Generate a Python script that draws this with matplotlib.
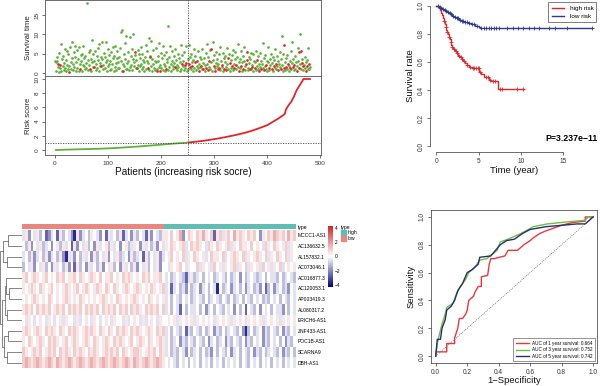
import numpy as np
import matplotlib
matplotlib.use('Agg')
import matplotlib.pyplot as plt
from matplotlib.colors import LinearSegmentedColormap, ListedColormap
from matplotlib.patches import Patch

plt.rcParams['font.family'] = ['Liberation Sans', 'DejaVu Sans']

# ---------------- risk score / survival status data ----------------
n_patients = 482
n_low = 250

risk_idx = [1, 10, 20, 30, 40, 50, 60, 70, 80, 90, 100, 110, 120, 130, 140, 150, 160, 170,
            180, 190, 200, 210, 220, 230, 240, 250, 260, 270, 280, 290, 300, 310, 320, 330,
            340, 350, 360, 370, 380, 390, 400, 410, 420, 430, 433, 435, 440, 445, 450, 455,
            460, 465, 468, 475, 482]
risk_val = [0.0, 0.02, 0.05, 0.07, 0.09, 0.11, 0.13, 0.15, 0.17, 0.2, 0.23, 0.27, 0.31, 0.36,
            0.41, 0.46, 0.51, 0.57, 0.63, 0.69, 0.76, 0.82, 0.88, 0.94, 0.99, 1.05, 1.13, 1.21,
            1.3, 1.41, 1.53, 1.66, 1.8, 1.95, 2.11, 2.28, 2.47, 2.69, 2.95, 3.22, 3.5, 3.95,
            4.4, 4.9, 5.1, 5.7, 6.3, 6.8, 7.5, 8.4, 9.0, 9.6, 10.0, 10.0, 10.0]

# survival time (years), 40 patients per row, ordered by risk score
surv_time_rows = [
    [3.2, 2.8, 0.4, 4.1, 3.0, 1.6, 2.2, 5.1, 0.3, 2.0, 1.2, 7.4, 0.5, 3.6, 1.9, 4.4, 0.8, 2.6, 6.2, 1.4,
     0.6, 3.3, 5.6, 2.1, 0.9, 4.8, 1.7, 0.3, 6.6, 2.9, 1.1, 7.9, 3.8, 0.7, 2.4, 5.3, 1.5, 4.0, 6.9, 0.4],
    [2.7, 5.9, 1.3, 3.5, 0.6, 6.8, 2.2, 1.0, 4.6, 3.1, 0.5, 5.0, 2.0, 7.1, 1.8, 3.9, 0.9, 4.3, 2.5, 1.4,
     18.0, 3.4, 0.7, 5.5, 2.1, 1.1, 6.0, 3.7, 0.4, 8.6, 2.9, 1.6, 4.9, 1.5, 3.0, 5.8, 0.8, 2.3, 4.5, 1.2],
    [6.4, 3.3, 0.6, 7.6, 2.6, 1.9, 4.2, 1.8, 3.6, 7.9, 0.9, 2.0, 5.2, 1.3, 4.0, 8.1, 2.8, 0.5, 3.4, 6.1,
     1.7, 2.4, 4.7, 0.7, 3.1, 5.4, 1.0, 2.2, 6.7, 3.8, 0.4, 4.4, 1.6, 7.0, 2.5, 0.8, 3.9, 5.7, 1.4, 2.9],
    [4.1, 1.2, 6.5, 3.0, 10.7, 0.6, 11.1, 2.3, 0.5, 4.8, 1.9, 7.7, 3.5, 0.9, 9.6, 2.6, 1.1, 5.3, 3.2, 0.7,
     9.3, 1.5, 4.3, 2.0, 6.3, 0.8, 3.7, 10.1, 1.8, 2.7, 4.6, 5.3, 1.3, 3.3, 1.3, 6.0, 2.1, 0.4, 4.9, 1.7],
    [3.9, 2.4, 6.8, 0.9, 5.0, 1.6, 3.4, 2.8, 0.6, 4.2, 7.3, 1.0, 3.1, 5.6, 1.2, 2.5, 9.1, 0.7, 4.4, 4.0,
     1.9, 8.3, 3.6, 0.5, 2.2, 5.9, 1.4, 3.0, 0.8, 6.4, 2.7, 1.1, 0.5, 4.5, 3.2, 1.6, 7.8, 0.6, 2.0, 5.1],
    [1.3, 3.8, 6.9, 0.7, 2.4, 4.7, 1.8, 0.4, 5.5, 1.1, 2.9, 3.5, 0.8, 12.1, 1.5, 4.1, 7.1, 2.3, 0.6, 3.0,
     5.8, 1.9, 0.9, 2.6, 4.3, 1.5, 6.2, 1.2, 3.4, 0.7, 2.1, 5.0, 1.6, 3.9, 0.5, 2.8, 7.2, 1.0, 2.4, 4.6],
    [1.7, 3.1, 0.8, 5.3, 2.1, 1.4, 6.9, 2.5, 0.6, 3.6, 1.1, 7.3, 2.2, 4.0, 1.5, 0.9, 5.0, 2.7, 1.8, 0.4,
     3.3, 6.1, 1.2, 2.9, 4.5, 0.7, 1.9, 3.0, 5.6, 1.3, 2.4, 0.5, 4.2, 1.6, 3.5, 1.8, 6.3, 0.9, 2.6, 1.1],
    [3.8, 0.6, 2.0, 5.2, 1.4, 7.5, 2.3, 0.8, 4.1, 1.6, 3.2, 6.0, 1.0, 2.7, 6.2, 0.5, 3.4, 7.9, 1.9, 4.6,
     1.2, 0.4, 2.5, 5.5, 1.7, 3.6, 0.9, 2.2, 4.8, 1.3, 6.6, 0.7, 3.0, 1.5, 2.1, 5.1, 0.6, 3.9, 1.1, 2.8],
    [4.4, 1.6, 0.8, 6.4, 2.3, 3.8, 1.0, 5.0, 0.5, 2.6, 3.3, 1.4, 4.7, 1.9, 0.7, 6.0, 2.4, 1.2, 3.5, 5.4,
     0.9, 2.0, 4.2, 1.5, 7.6, 0.6, 2.9, 3.7, 1.3, 5.8, 1.7, 0.4, 2.7, 4.5, 1.0, 3.1, 6.7, 1.8, 0.8, 2.2],
    [3.3, 5.3, 1.4, 0.7, 4.0, 2.5, 1.1, 3.6, 5.1, 0.9, 2.1, 1.6, 4.8, 0.5, 3.0, 1.3, 2.7, 5.6, 0.8, 1.9,
     3.4, 1.0, 4.3, 2.2, 0.6, 5.2, 1.5, 3.1, 0.9, 2.4, 7.8, 1.2, 3.8, 0.7, 1.8, 4.6, 2.0, 1.1, 3.2, 0.5],
    [2.9, 6.8, 1.4, 0.8, 3.7, 2.1, 5.0, 1.0, 2.6, 4.1, 0.6, 1.7, 3.3, 6.1, 1.2, 2.4, 0.9, 4.4, 1.9, 3.0,
     0.7, 2.2, 5.4, 1.5, 1.0, 3.6, 9.5, 2.0, 0.5, 4.9, 1.3, 7.3, 2.7, 0.8, 1.6, 3.9, 1.1, 4.7, 2.3, 0.6],
    [1.8, 3.2, 1.2, 5.7, 0.9, 2.6, 8.0, 1.5, 3.5, 0.7, 2.1, 4.3, 1.0, 2.8, 0.5, 1.9, 3.0, 6.5, 1.4, 5.3,
     2.2, 10.2, 5.7, 1.1, 2.5, 3.6, 0.8, 1.7, 2.0, 4.1, 1.3, 0.6, 2.9, 1.8, 3.4, 1.0, 6.4, 2.3, 0.9, 1.5],
]
# 1 = dead, 0 = alive
surv_dead_rows = [
    "0000001001" "0000000000" "0000000100" "0000000000",
    "0000000100" "0000000000" "0000010000" "0001000000",
    "0000000100" "0000000000" "0000000000" "0000000000",
    "0000000010" "0000000000" "0000000000" "0100100000",
    "0000000000" "0000100001" "0000000000" "0010000100",
    "0000000001" "0000000000" "0000010000" "0000000010",
    "0000100100" "0010100010" "0001000100" "0100010001",
    "0000100100" "1000100010" "0100001001" "0000100010",
    "0010010001" "0001000100" "0100010000" "1000100001",
    "1100001000" "0100010000" "1000100010" "0001001000",
    "0010000100" "0100010000" "1000100000" "1100100010",
    "0010000100" "1000100011" "0010100100" "0101000100",
]

# ---------------- Kaplan-Meier data ----------------
hr_time = [0, 0.3, 0.5, 0.6, 0.7, 0.8, 0.9, 1.0, 1.1, 1.2, 1.3, 1.4, 1.5, 1.6, 1.7, 1.8, 1.9, 2.0,
           2.2, 2.4, 2.6, 2.8, 3.0, 3.2, 3.4, 3.6, 3.9, 4.2, 5.1, 5.3, 5.7, 6.2, 6.5, 7.3, 10.4]
hr_surv = [1.0, 0.985, 0.97, 0.95, 0.93, 0.91, 0.89, 0.87, 0.85, 0.83, 0.815, 0.795, 0.78, 0.76,
           0.74, 0.72, 0.705, 0.69, 0.675, 0.66, 0.645, 0.635, 0.62, 0.605, 0.59, 0.578, 0.565,
           0.555, 0.53, 0.515, 0.495, 0.475, 0.465, 0.41, 0.41]
hr_cens = [0.9, 1.1, 1.3, 1.5, 1.7, 1.9, 2.1, 2.3, 2.5, 2.7, 2.9, 3.1, 3.3, 3.6, 4.0, 4.3, 4.5,
           4.7, 4.9, 5.0, 5.2, 5.9, 6.1, 6.4, 6.7, 6.9, 7.6, 7.8, 9.6, 10.3]
lr_time = [0, 0.2, 0.35, 0.5, 0.7, 0.9, 1.1, 1.3, 1.5, 1.7, 1.9, 2.1, 2.4, 2.7, 3.0, 3.3, 3.7,
           4.1, 4.6, 5.0, 5.2, 18.4]
lr_surv = [1.0, 0.995, 0.99, 0.985, 0.978, 0.97, 0.962, 0.955, 0.945, 0.938, 0.928, 0.92, 0.91,
           0.9, 0.893, 0.885, 0.877, 0.868, 0.858, 0.85, 0.84, 0.84]
lr_cens = [0.2, 0.4, 0.6, 0.8, 1.0, 1.2, 1.4, 1.6, 1.8, 2.0, 2.2, 2.4, 2.6, 2.8, 3.0, 3.2, 3.4,
           3.6, 3.9, 4.2, 4.5, 4.8, 5.3, 5.6, 5.9, 6.2, 6.5, 6.8, 7.1, 7.4, 8.4, 9.1, 9.7, 10.3,
           11.0, 11.6, 12.2, 13.3, 14.0, 15.5, 18.4]
p_text = "P=3.237e\u221211"

# ---------------- ROC data ----------------
roc1_fpr = [0.0, 0.0, 0.07, 0.07, 0.12, 0.12, 0.14, 0.15, 0.17, 0.19, 0.2, 0.21, 0.24, 0.25, 0.27,
            0.29, 0.29, 0.33, 0.34, 0.35, 0.37, 0.44, 0.46, 0.52, 0.54, 0.56, 0.6, 0.62, 0.66, 0.7,
            0.75, 0.8, 0.87, 0.95, 0.95, 1.0]
roc1_tpr = [0.0, 0.03, 0.03, 0.09, 0.09, 0.13, 0.2, 0.27, 0.27, 0.3, 0.33, 0.4, 0.43, 0.46, 0.5,
            0.5, 0.57, 0.58, 0.66, 0.7, 0.7, 0.72, 0.76, 0.76, 0.78, 0.8, 0.83, 0.85, 0.88, 0.9,
            0.92, 0.94, 0.96, 0.97, 1.0, 1.0]
roc3_fpr = [0.0, 0.01, 0.02, 0.04, 0.06, 0.07, 0.11, 0.13, 0.155, 0.19, 0.21, 0.25, 0.28, 0.325,
            0.39, 0.41, 0.47, 0.54, 0.62, 0.71, 0.83, 0.95, 0.97, 1.0]
roc3_tpr = [0.0, 0.09, 0.14, 0.23, 0.3, 0.35, 0.38, 0.44, 0.5, 0.55, 0.6, 0.64, 0.69, 0.70, 0.76,
            0.82, 0.845, 0.88, 0.93, 0.95, 0.964, 0.976, 1.0, 1.0]
roc5_fpr = [0.0, 0.01, 0.03, 0.04, 0.06, 0.07, 0.1, 0.12, 0.14, 0.17, 0.2, 0.23, 0.27, 0.28, 0.35,
            0.38, 0.41, 0.45, 0.5, 0.55, 0.6, 0.7, 0.8, 0.9, 0.95, 0.97, 1.0]
roc5_tpr = [0.0, 0.12, 0.12, 0.2, 0.26, 0.33, 0.36, 0.4, 0.47, 0.52, 0.6, 0.62, 0.66, 0.71, 0.72,
            0.76, 0.8, 0.83, 0.84, 0.88, 0.91, 0.93, 0.94, 0.95, 0.95, 0.97, 1.0]
roc_years = [1, 3, 5]
roc_auc = [0.664, 0.752, 0.742]

# ---------------- heatmap data ----------------
genes = ["MCCC1-AS1", "AC136632.5", "AL157832.1", "AC073046.1", "AC016877.3", "AC120053.1",
         "AP003419.3", "AL080317.2", "ERICH6-AS1", "ZNF433-AS1", "POC1B-AS1", "SCARNA9", "DBH-AS1"]
# expression level codes per column group: low-risk part, then high-risk part
hm_rows = [
    ("4625463512" "4516354206" "2453654251" "6453614526" "3541625436",
     "6575682576" "5768657167" "4675867657" "6752657687" "675867"),
    ("5362546345" "2563645162" "5463526456" "3645256346" "5264536254",
     "6576567457" "6765476576" "5674657665" "7565476576" "567465"),
    ("4536245362" "4536204625" "3645263546" "2546345263" "4516354624",
     "5675657465" "7656457665" "7456765746" "5676574657" "657465"),
    ("3546254635" "2645362516" "3526453625" "4635264536" "2546354625",
     "5465675465" "5746564756" "4656746574" "6564756465" "745656"),
    ("6756765675" "6576756675" "7656765756" "6756576765" "6576756675",
     "4534543146" "3453545345" "4353452534" "5434535443" "534543"),
    ("6567657656" "7565676567" "5676567657" "6576567656" "7656576567",
     "4514534253" "4524535405" "3452453524" "5342513524" "534254"),
    ("5656765657" "6565676565" "7656565676" "5657656567" "6565765656",
     "4535435453" "4543534543" "5435345354" "3545343545" "354354"),
    ("6767576767" "5676757676" "7576767576" "7675767576" "7657676757",
     "4535415354" "4535245354" "3545253515" "4352545354" "425354"),
    ("5465456546" "5456465546" "4565465456" "5465546456" "5464565465",
     "5656465656" "4656565465" "6564656546" "5656465656" "465656"),
    ("6765676576" "7657657676" "5676765765" "7657676576" "7656765767",
     "4535435143" "5435345243" "5345435203" "5345243543" "524354"),
    ("6576567657" "6765675676" "5676576567" "6576765675" "6765765676",
     "4534524354" "3543524534" "5243543524" "3545243545" "352435"),
    ("7656767567" "6757676576" "7657676567" "6767576567" "7656767576",
     "4534354253" "4535342535" "4352453543" "5243534543" "524353"),
    ("7876787678" "7687678767" "8767876787" "6787678768" "7678767876",
     "5454354535" "4535453545" "3545453543" "5453545354" "535454"),
]
# value of each code 0..9 (row-scaled expression)
hm_levels = [-3.6, -2.6, -1.8, -1.1, -0.5, 0.0, 0.5, 1.0, 1.6, 2.5]
# row clustering: (node a, node b, height); new nodes numbered from 13
den_merges = [(0, 1, 1.7), (2, 3, 1.8), (13, 14, 2.3), (5, 6, 1.6), (4, 16, 1.9), (7, 8, 1.75),
              (17, 18, 2.1), (9, 10, 1.7), (11, 12, 1.8), (20, 21, 2.2), (19, 22, 2.4),
              (15, 23, 2.6)]

green = '#5DB33A'
red = '#E3252B'
navy_km = '#2E3A8C'
low_col = '#E8877E'
high_col = '#5FBDB4'
axis_col = '#333333'


def r_style(ax, size):
    ax.tick_params(direction='out', length=2.5, width=0.5, labelsize=size, pad=1.5,
                   colors=axis_col)
    for lab in ax.get_yticklabels():
        lab.set_rotation(90)
        lab.set_va('center')
    for sp in ax.spines.values():
        sp.set_linewidth(0.6)
        sp.set_color('#555555')


fig = plt.figure(figsize=(6, 3.86), dpi=100)
W, H = 600.0, 386.0


def px_axes(x0, y0, x1, y1):
    return fig.add_axes([x0 / W, 1 - y1 / H, (x1 - x0) / W, (y1 - y0) / H])


# ---------- survival status scatter ----------
surv_time = np.concatenate([np.array(r, dtype=float) for r in surv_time_rows])
surv_dead = np.array([int(c) for r in surv_dead_rows for c in r])
k = min(len(surv_time), len(surv_dead))
surv_time, surv_dead = surv_time[:k], surv_dead[:k]
pat = np.arange(1, k + 1)

ax1 = px_axes(45, 0, 321, 76)
alive = surv_dead == 0
ax1.scatter(pat[alive], surv_time[alive], s=3.8, color=green, linewidths=0, zorder=2)
ax1.scatter(pat[~alive], surv_time[~alive], s=3.8, color=red, linewidths=0, zorder=3)
ax1.axvline(n_low, color='#444444', lw=0.6, ls=(0, (1.5, 1.5)))
ax1.set_xlim(-18, 501)
ax1.set_ylim(-0.8, 18.9)
ax1.set_xticks([])
ax1.set_yticks([0, 5, 10, 15])
ax1.set_ylabel('Survival time', fontsize=5.6, labelpad=2, color='#222222')
r_style(ax1, 4.6)

# ---------- risk score curve ----------
ax2 = px_axes(45, 76, 321, 155)
ridx = np.array(risk_idx)
rval = np.array(risk_val)
lo = ridx <= n_low
ax2.plot(ridx[lo], rval[lo], color=green, lw=1.3, solid_capstyle='butt')
hi = ridx >= n_low
ax2.plot(ridx[hi], rval[hi], color=red, lw=1.3, solid_capstyle='butt')
cut_val = rval[ridx == n_low][0]
ax2.axvline(n_low, color='#444444', lw=0.6, ls=(0, (1.5, 1.5)))
ax2.axhline(cut_val, color='#444444', lw=0.6, ls=(0, (1.5, 1.5)))
ax2.set_xlim(-18, 501)
ax2.set_ylim(-0.7, 10.42)
ax2.set_xticks([0, 100, 200, 300, 400, 500])
ax2.set_yticks([0, 2, 4, 6, 8, 10])
ax2.set_ylabel('Risk score', fontsize=5.6, labelpad=2, color='#222222')
ax2.set_xlabel('Patients (increasing risk socre)', fontsize=7.2, labelpad=1, color='#111111')
r_style(ax2, 4.6)

# ---------- Kaplan-Meier ----------
ax3 = px_axes(430, 0, 598, 152)
ax3.step(hr_time, hr_surv, where='post', color=red, lw=1.0)
ax3.step(lr_time, lr_surv, where='post', color=navy_km, lw=1.0)
for t, s, c, col in [(hr_time, hr_surv, hr_cens, red), (lr_time, lr_surv, lr_cens, navy_km)]:
    t = np.array(t)
    s = np.array(s)
    c = np.array(c)
    cy = s[np.searchsorted(t, c, side='right') - 1]
    ax3.plot(c, cy, ls='none', marker='+', ms=3.5, mew=0.6, color=col)
ax3.set_xlim(-0.74, 19.14)
ax3.set_ylim(-0.04, 1.04)
ax3.set_xticks([0, 5, 10, 15])
ax3.set_yticks([0.0, 0.2, 0.4, 0.6, 0.8, 1.0])
ax3.set_yticklabels(['0.0', '0.2', '0.4', '0.6', '0.8', '1.0'])
ax3.spines['top'].set_visible(False)
ax3.spines['right'].set_visible(False)
ax3.spines['left'].set_bounds(0, 1)
ax3.spines['bottom'].set_bounds(0, 15)
ax3.set_xlabel('Time (year)', fontsize=6.8, labelpad=1, color='#111111')
ax3.set_ylabel('Survival rate', fontsize=6.8, labelpad=2, color='#111111')
r_style(ax3, 4.7)
ax3.text(19.1, 0.055, p_text, ha='right', va='center', fontsize=6.3, fontweight='bold')
leg = ax3.legend(handles=[plt.Line2D([], [], color=red, lw=1.0),
                          plt.Line2D([], [], color=navy_km, lw=1.0)],
                 labels=['high risk', 'low risk'], loc='upper right',
                 bbox_to_anchor=(1.01, 1.005), fontsize=4.6, frameon=True, fancybox=False,
                 handlelength=2.0, borderpad=0.5, labelspacing=0.4, handletextpad=0.8)
leg.get_frame().set_edgecolor('#444444')
leg.get_frame().set_linewidth(0.6)

# ---------- ROC ----------
ax4 = px_axes(431, 210, 597, 363)
ax4.plot([0, 1], [0, 1], color='#666666', lw=0.5, ls=(0, (1.5, 1.5)))
roc_cols = ['#E8383D', '#6DBE45', '#27306F']
for fpr, tpr, col, yr, auc in zip([roc1_fpr, roc3_fpr, roc5_fpr], [roc1_tpr, roc3_tpr, roc5_tpr],
                                  roc_cols, roc_years, roc_auc):
    ax4.plot(fpr, tpr, color=col, lw=1.0, label=f'AUC of {yr} year survival: {auc:.3f}')
ax4.set_xlim(-0.03, 1.025)
ax4.set_ylim(-0.05, 1.05)
ticks = [0.0, 0.2, 0.4, 0.6, 0.8, 1.0]
ax4.set_xticks(ticks)
ax4.set_yticks(ticks)
ax4.set_xticklabels([f'{v:.1f}' for v in ticks])
ax4.set_yticklabels([f'{v:.1f}' for v in ticks])
ax4.set_xlabel('1\u2212Specificity', fontsize=6.8, labelpad=0.5, color='#111111')
ax4.set_ylabel('Sensitivity', fontsize=6.8, labelpad=2, color='#111111')
r_style(ax4, 4.7)
leg4 = ax4.legend(loc='lower right', fontsize=3.3, frameon=True, fancybox=False,
                  handlelength=2.8, borderpad=0.5, labelspacing=0.35, borderaxespad=0.4)
leg4.get_frame().set_edgecolor('#444444')
leg4.get_frame().set_linewidth(0.5)

# ---------- heatmap ----------
codes = [[int(ch) for ch in (a + b)] for a, b in hm_rows]
ncol = min(len(r) for r in codes)
hm = np.array([[hm_levels[c] for c in r[:ncol]] for r in codes])
n_rows = len(genes)
cmap = LinearSegmentedColormap.from_list('pheat', ['#000080', 'white', '#CD2626'])

ax_hm = px_axes(22, 230, 296, 368)
im = ax_hm.imshow(hm, cmap=cmap, vmin=-4.3, vmax=4.3, aspect='auto', interpolation='nearest')
ax_hm.set_xticks([])
ax_hm.set_yticks(range(n_rows))
ax_hm.set_yticklabels(genes)
ax_hm.yaxis.tick_right()
ax_hm.tick_params(length=0, pad=1.5, labelsize=3.6)
for sp in ax_hm.spines.values():
    sp.set_visible(False)

ax_ann = px_axes(22, 224, 296, 229)
ann = np.r_[np.zeros(n_low), np.ones(n_patients - n_low)][None, :]
ax_ann.imshow(ann, cmap=ListedColormap([low_col, high_col]), aspect='auto',
              interpolation='nearest')
ax_ann.set_xticks([])
ax_ann.set_yticks([0])
ax_ann.set_yticklabels(['type'])
ax_ann.yaxis.tick_right()
ax_ann.tick_params(length=0, pad=1.5, labelsize=3.6)
for sp in ax_ann.spines.values():
    sp.set_visible(False)

# dendrogram
ax_den = px_axes(0, 230, 22, 368)
node_pos = {i: (0.0, float(i)) for i in range(n_rows)}
for j, (a, b, h) in enumerate(den_merges):
    xa, ya = node_pos[a]
    xb, yb = node_pos[b]
    ax_den.plot([xa, h, h, xb], [ya, ya, yb, yb], color='#555555', lw=0.5)
    node_pos[n_rows + j] = (h, (ya + yb) / 2)
hmax = max(m[2] for m in den_merges)
ax_den.set_xlim(hmax * 1.02, 0)
ax_den.set_ylim(n_rows - 0.5, -0.5)
ax_den.axis('off')

# colour bar
cax = px_axes(328, 226, 333, 287)
cb = fig.colorbar(im, cax=cax, ticks=[-4, -2, 0, 2, 4])
cb.outline.set_visible(False)
cax.tick_params(labelsize=3.5, length=0, pad=1.5)

fig.legend(handles=[Patch(color=high_col), Patch(color=low_col)], labels=['high', 'low'],
           title='type', loc='upper left', bbox_to_anchor=(337 / W, 1 - 221 / H),
           frameon=False, fontsize=3.6, title_fontsize=3.6, handlelength=1.1,
           handleheight=1.3, handletextpad=0.4, labelspacing=0.1, alignment='left',
           borderpad=0.2)

fig.savefig('out.png', dpi=100)
